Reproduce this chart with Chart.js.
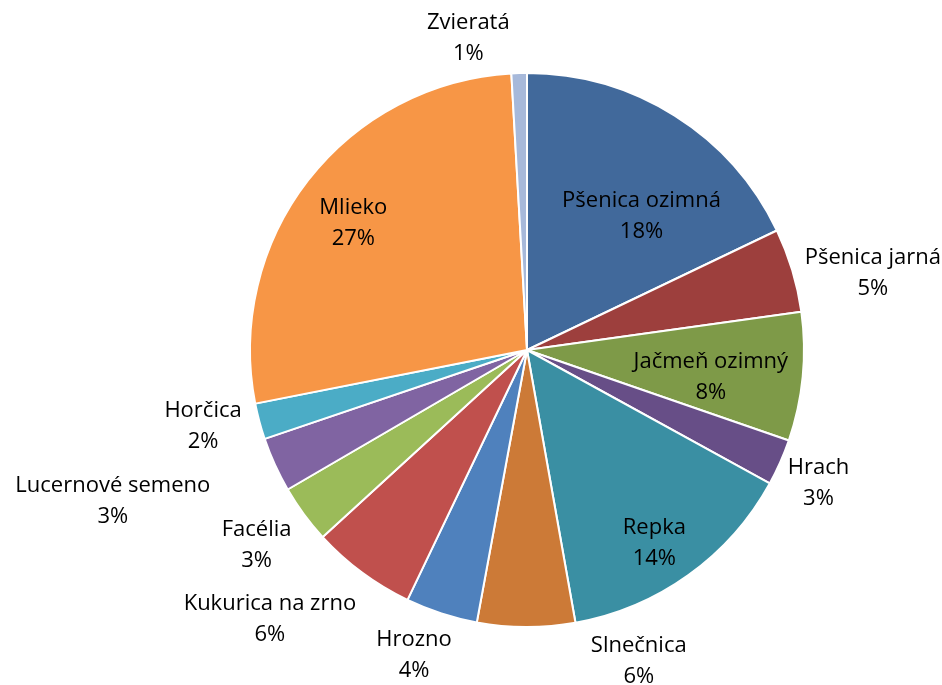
<!DOCTYPE html>
<html>
<head>
<meta charset="utf-8">
<script src="https://cdn.jsdelivr.net/npm/chart.js@4.4.1/dist/chart.umd.min.js"></script>
<style>
  html, body { margin: 0; padding: 0; background: #fff; }
  #wrap { width: 942px; height: 685px; }
</style>
</head>
<body>
<div id="wrap"><canvas id="pie"></canvas></div>
<script>
// data, clockwise from 12 o'clock
const categories = ['Pšenica ozimná', 'Pšenica jarná', 'Jačmeň ozimný', 'Hrach', 'Repka', 'Slnečnica',
    'Hrozno', 'Kukurica na zrno', 'Facélia', 'Lucernové semeno', 'Horčica', 'Mlieko', 'Zvieratá'];
const shares = [17.9, 4.9, 7.5, 2.7, 14.2, 5.7, 4.2, 6.1, 3.4, 3.2, 2.1, 27.2, 0.9];
const percentLabels = ['18%', '5%', '8%', '3%', '14%', '6%', '4%', '6%', '3%', '3%', '2%', '27%', '1%'];
const sliceColors = ['#41699b', '#9d3f3d', '#7e9a48', '#674e87', '#3a8fa3', '#cc7a37',
    '#4f81bd', '#c0504d', '#9bbb59', '#8064a2', '#4bacc6', '#f79646', '#a7b9da'];

// where each label sits: [angle shift from slice middle in degrees, distance as share of radius]
const labelPlace = [[8, 0.64], [4, 1.28], [2.4, 0.67], [0.4, 1.155], [2, 0.83], [-20, 1.19],
    [2.4, 1.17], [7.3, 1.34], [0.8, 1.2], [4.6, 1.59], [2, 1.2], [-1.3, 0.78], [-9, 1.15]];

const labelFont = '22px "Open Sans", "Noto Sans", sans-serif';

const sliceLabels = {
    id: 'sliceLabels',
    afterDatasetsDraw(chart) {
        const ctx = chart.ctx;
        const arcs = chart.getDatasetMeta(0).data;
        ctx.save();
        ctx.font = labelFont;
        ctx.fillStyle = '#000';
        ctx.textAlign = 'center';
        ctx.textBaseline = 'middle';
        arcs.forEach((arc, i) => {
            const mid = (arc.startAngle + arc.endAngle) / 2 + labelPlace[i][0] * Math.PI / 180;
            const r = arc.outerRadius * labelPlace[i][1];
            const x = arc.x + Math.cos(mid) * r;
            const y = arc.y + Math.sin(mid) * r;
            ctx.fillText(categories[i], x, y - 14);
            ctx.fillText(percentLabels[i], x, y + 17);
        });
        ctx.restore();
    }
};

new Chart(document.getElementById('pie'), {
    type: 'pie',
    data: {
        labels: categories,
        datasets: [{
            data: shares,
            backgroundColor: sliceColors,
            borderColor: '#ffffff',
            borderWidth: 2,
            hoverOffset: 0
        }]
    },
    options: {
        responsive: true,
        maintainAspectRatio: false,
        animation: false,
        layout: { padding: { top: 72, bottom: 57, left: 249, right: 137 } },
        plugins: {
            legend: { display: false },
            tooltip: { enabled: false }
        }
    },
    plugins: [sliceLabels]
});
</script>
</body>
</html>
